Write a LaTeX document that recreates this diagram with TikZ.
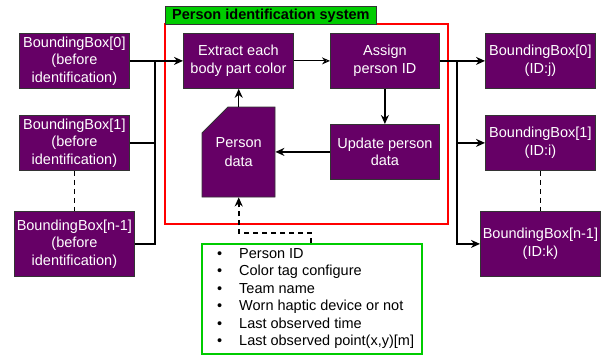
\documentclass[tikz,border=0pt]{standalone}
\usepackage{fontspec}
\setmainfont{Liberation Sans}
\usetikzlibrary{arrows.meta}
\definecolor{pur}{HTML}{660066}
\definecolor{gfill}{HTML}{00CC00}
\definecolor{gline}{HTML}{00CC00}
\definecolor{bord}{HTML}{333333}
\begin{document}
\begin{tikzpicture}[x=1pt,y=-1pt,
  box/.style={draw=bord, fill=pur, text=white, line width=0.8pt, inner sep=0pt,
    align=center, anchor=north west, font=\fontsize{14.5}{17.5}\selectfont},
  conn/.style={line width=1.4pt, -{Stealth[length=9pt,width=8pt]}},
  thinconn/.style={line width=1.1pt, -{Stealth[length=8pt,width=7pt,open]}},
  wire/.style={line width=1.4pt},
  dwire/.style={line width=1.6pt, dash pattern=on 5pt off 4pt},
  lbl/.style={font=\fontsize{14.5}{17.4}\selectfont, align=left, inner sep=0pt}
  ]
\useasboundingbox (0,0) rectangle (612,356);

% red frame and title
\draw[red, line width=1.4pt] (165,24) rectangle (448,224);
\node[draw=bord, fill=gfill, line width=0.8pt, anchor=north west, inner sep=0pt,
  minimum width=211, minimum height=18, font=\fontsize{14.5}{17}\selectfont\bfseries]
  (title) at (165,6) {Person identification system};

% left boxes
\node[box, minimum width=110, minimum height=55] (L0) at (19,33) {BoundingBox[0]\\(before\\identification)};
\node[box, minimum width=110, minimum height=55] (L1) at (19,115) {BoundingBox[1]\\(before\\identification)};
\node[box, minimum width=120, minimum height=65] (L2) at (14,211) {BoundingBox[n-1]\\(before\\identification)};

% inner boxes
\node[box, minimum width=110, minimum height=55] (EX) at (183,33) {Extract each\\body part color};
\node[box, minimum width=109, minimum height=55] (AS) at (330,33) {Assign\\person ID};
\node[box, minimum width=109, minimum height=55] (UP) at (330,124) {Update person\\data};

% person data shape
\filldraw[fill=pur, draw=bord, line width=0.8pt] (228,107) -- (275,107) -- (275,197) -- (202,197) -- (202,133) -- cycle;
\node[inner sep=0pt, minimum width=73, minimum height=90, anchor=north west, text=white,
  align=center, font=\fontsize{14.5}{18.5}\selectfont] (PD) at (202,107) {Person\\data};

% right boxes
\node[box, minimum width=110, minimum height=55] (R0) at (485,33) {BoundingBox[0]\\(ID:j)};
\node[box, minimum width=110, minimum height=55] (R1) at (485,115) {BoundingBox[1]\\(ID:i)};
\node[box, minimum width=120, minimum height=65] (R2) at (480,211) {BoundingBox[n-1]\\(ID:k)};

% list box
\node[draw=gline, line width=1.6pt, anchor=north west, minimum width=220, minimum height=110, inner sep=0pt] (LST) at (201,243) {};
\node[lbl, anchor=west] (LTX) at (217,298.5) {%
\makebox[22pt][l]{•}Person ID\\
\makebox[22pt][l]{•}Color tag configure\\
\makebox[22pt][l]{•}Team name\\
\makebox[22pt][l]{•}Worn haptic device or not\\
\makebox[22pt][l]{•}Last observed time\\
\makebox[22pt][l]{•}Last observed point(x,y)[m]};

% junction coordinates
\coordinate (JL) at (155,60.5);
\coordinate (JR) at (457,60.5);
\coordinate (DK) at (311,233);

% left connectors
\draw[conn] (L0.east) -- (EX.west);
\draw[wire] (L1.east) -- (L1.east -| JL);
\draw[wire] (L2.east) -| (JL);
\draw[dwire] (L1.south) -- (L2.north);

% inner connectors
\draw[thinconn] (EX.east) -- (AS.west);
\draw[conn] (AS.south) -- (UP.north);
\draw[conn] (UP.west) -- (UP.west -| PD.east);
\draw[conn] (PD.north) -- (PD.north |- EX.south);

% right connectors
\draw[conn] (AS.east) -- (R0.west);
\draw[conn] (JR) |- (R2.west);
\draw[conn] (JR |- R1.west) -- (R1.west);
\draw[dwire] (R1.south) -- (R2.north);

% dashed link from list to person data
\draw[dwire, -{Stealth[length=9pt,width=8pt]}] (LST.north -| DK) -- (DK) -| (PD.south);
\end{tikzpicture}
\end{document}
